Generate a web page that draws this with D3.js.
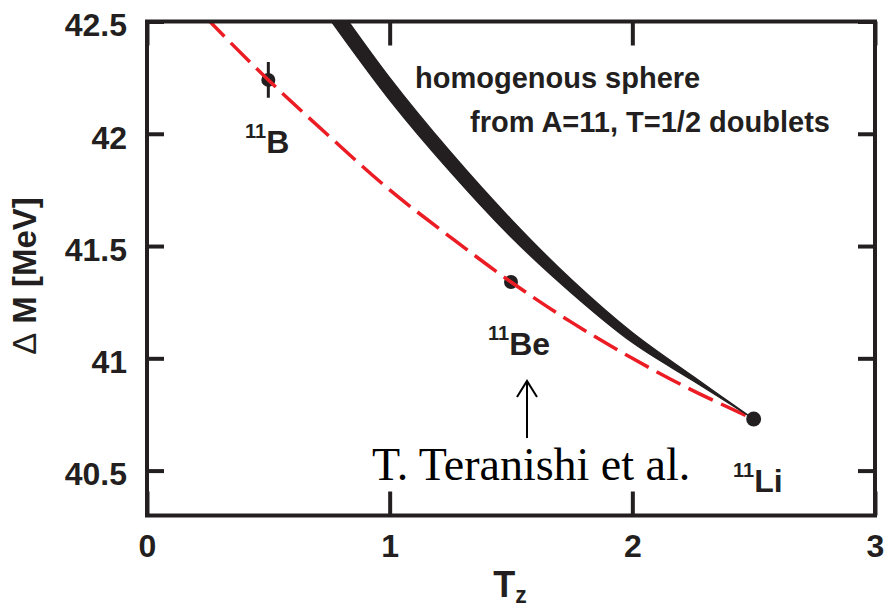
<!DOCTYPE html>
<html>
<head>
<meta charset="utf-8">
<script src="https://cdn.jsdelivr.net/npm/d3@7"></script>
<style>
  html, body { margin: 0; padding: 0; background: #fff; }
  svg { display: block; font-family: "Liberation Sans", Arial, Helvetica, sans-serif; }
</style>
</head>
<body>
<svg id="chart" width="885" height="608"></svg>
<script>
// Isobaric mass excess of the A=11 members, ΔM vs T_z
const xTicks = [0, 1, 2, 3];
const yTicks = [40.5, 41, 41.5, 42, 42.5];

// measured nuclides
const nuclides = ["11B", "11Be", "11Li"];
const nucTz = [0.5, 1.5, 2.5];
const nucDM = [42.24, 41.34, 40.73];
const nucErr = [0.08, 0, 0];

// red dashed quadratic trend through the three nuclides
const redTz = [0.0, 0.25, 0.5, 0.75, 1.0, 1.25, 1.5, 1.75, 2.0, 2.25, 2.5];
const redDM = [42.80, 42.51, 42.24, 41.99, 41.75, 41.54, 41.34, 41.16, 41.0, 40.856, 40.73];

// homogeneous-sphere band (upper and lower edges), anchored at 11Li
const bandTz = [0.7, 1.0, 1.25, 1.5, 1.75, 2.0, 2.25, 2.5];
const bandHi = [42.70, 42.25, 41.92, 41.62, 41.35, 41.115, 40.92, 40.73];
const bandLo = [42.59, 42.15, 41.83, 41.54, 41.29, 41.07, 40.90, 40.73];

const ink = "#231f20";
const red = "#ec1c24";

const svg = d3.select("#chart");
const L = 147, R = 875, T = 21.5, B = 515.5;

const x = d3.scaleLinear().domain([0, 3]).range([L, R]);
const y = d3.scaleLinear().domain([40.3, 42.5]).range([B, T]);

svg.append("defs").append("clipPath").attr("id", "plot")
  .append("rect").attr("x", L).attr("y", T).attr("width", R - L).attr("height", B - T);

const plot = svg.append("g").attr("clip-path", "url(#plot)");

// error bar and points
nucTz.forEach((t, i) => {
  if (nucErr[i] > 0) {
    plot.append("line")
      .attr("x1", x(t)).attr("x2", x(t))
      .attr("y1", y(nucDM[i] - nucErr[i])).attr("y2", y(nucDM[i] + nucErr[i]))
      .attr("stroke", ink).attr("stroke-width", 3);
  }
  plot.append("circle").attr("cx", x(t)).attr("cy", y(nucDM[i])).attr("r", i === 2 ? 7.5 : 7).attr("fill", ink);
});

// dashed trend curve
const redPts = redTz.map((t, i) => [t, redDM[i]]);
plot.append("path")
  .attr("d", d3.line().x(d => x(d[0])).y(d => y(d[1])).curve(d3.curveCatmullRom)(redPts))
  .attr("fill", "none").attr("stroke", red).attr("stroke-width", 3.5)
  .attr("stroke-dasharray", "27,9").attr("stroke-dashoffset", -14);

// sphere band
const bandPts = bandTz.map((t, i) => ({ t, hi: bandHi[i], lo: bandLo[i] }));
plot.append("path")
  .attr("d", d3.area().x(d => x(d.t)).y0(d => y(d.lo)).y1(d => y(d.hi)).curve(d3.curveCatmullRom)(bandPts))
  .attr("fill", ink).attr("stroke", ink).attr("stroke-width", 1.2).attr("stroke-linejoin", "round");

// axes: ticks point inward, frame drawn separately
const fmt = d => String(d);
const gL = svg.append("g").attr("transform", `translate(${L},0)`)
  .call(d3.axisLeft(y).tickValues(yTicks).tickSizeInner(-17).tickSizeOuter(0).tickPadding(20).tickFormat(fmt));
const gR = svg.append("g").attr("transform", `translate(${R},0)`)
  .call(d3.axisRight(y).tickValues(yTicks).tickSizeInner(-17).tickSizeOuter(0).tickFormat(""));
const gB = svg.append("g").attr("transform", `translate(0,${B})`)
  .call(d3.axisBottom(x).tickValues(xTicks).tickSizeInner(-24).tickSizeOuter(0).tickPadding(19).tickFormat(fmt));
const gT = svg.append("g").attr("transform", `translate(0,${T})`)
  .call(d3.axisTop(x).tickValues(xTicks).tickSizeInner(-24).tickSizeOuter(0).tickFormat(""));

[gL, gR, gB, gT].forEach(g => {
  g.select(".domain").remove();
  g.selectAll(".tick line").attr("stroke", ink).attr("stroke-width", 4);
  g.selectAll("text").attr("fill", ink).attr("font-size", 32).attr("font-weight", "bold")
    .attr("font-family", "'Liberation Sans', Arial, sans-serif");
});
gL.selectAll(".tick text").attr("dy", "0.45em");
gB.selectAll(".tick text").attr("dy", "0.7em");

svg.append("rect").attr("x", L).attr("y", T).attr("width", R - L).attr("height", B - T)
  .attr("fill", "none").attr("stroke", ink).attr("stroke-width", 4);

// axis titles
svg.append("text")
  .attr("transform", `translate(36,276) rotate(-90)`)
  .attr("text-anchor", "middle").attr("font-size", 33).attr("font-weight", "bold").attr("fill", ink)
  .call(t => {
    t.append("tspan").attr("font-weight", "normal").text("Δ");
    t.append("tspan").text(" M [MeV]");
  });

const tz = svg.append("text").attr("x", 510).attr("y", 597).attr("text-anchor", "middle")
  .attr("fill", ink).attr("font-weight", "bold");
tz.append("tspan").attr("font-size", 36).text("T");
tz.append("tspan").attr("font-size", 23).attr("dy", 6).text("z");

// band annotation
svg.append("text").attr("x", 415).attr("y", 88).attr("font-size", 29).attr("font-weight", "bold")
  .attr("fill", ink).text("homogenous sphere");
svg.append("text").attr("x", 470).attr("y", 132).attr("font-size", 29).attr("font-weight", "bold")
  .attr("fill", ink).text("from A=11, T=1/2 doublets");

// nuclide labels with mass-number superscripts
const labelPos = [[245, 153], [488, 355], [733, 492]];
nuclides.forEach((n, i) => {
  const t = svg.append("text").attr("x", labelPos[i][0]).attr("y", labelPos[i][1])
    .attr("fill", ink).attr("font-weight", "bold");
  t.append("tspan").attr("font-size", 20).attr("dy", -15).text(n.slice(0, 2));
  t.append("tspan").attr("font-size", 32).attr("dy", 15).text(n.slice(2));
});

// reference note with arrow to 11Be
svg.append("text").attr("x", 372).attr("y", 480)
  .attr("font-family", "'Liberation Serif', 'Times New Roman', serif").attr("font-size", 46)
  .attr("fill", "#000").text("T. Teranishi et al.");
const ax = 527;
svg.append("path")
  .attr("d", `M${ax},438 L${ax},381 M${ax - 10},397 L${ax},381 L${ax + 10},397`)
  .attr("fill", "none").attr("stroke", "#000").attr("stroke-width", 2);
</script>
</body>
</html>
